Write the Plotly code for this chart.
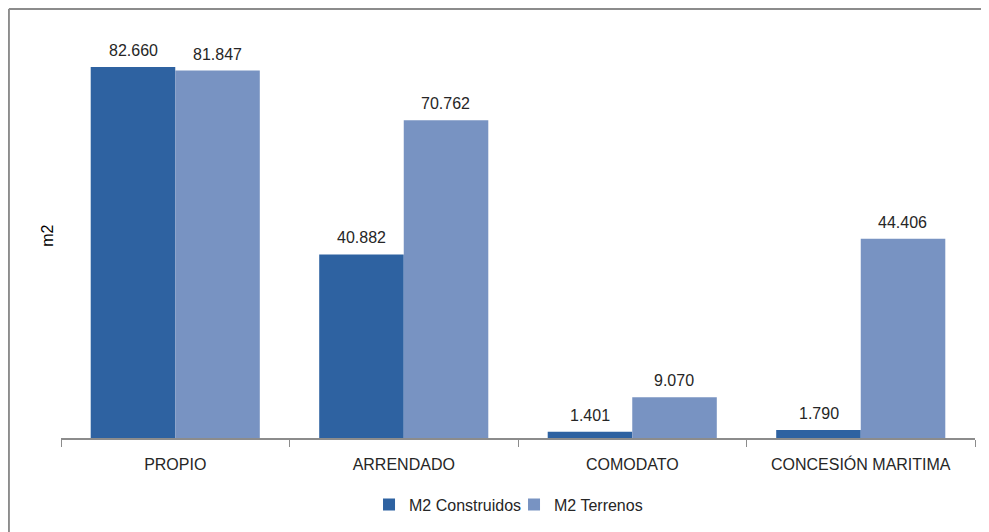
import plotly.graph_objects as go

# categories and values (m2)
categorias = ["PROPIO", "ARRENDADO", "COMODATO", "CONCESIÓN MARITIMA"]
m2_construidos = [82660, 40882, 1401, 1790]
m2_terrenos = [81847, 70762, 9070, 44406]

fig = go.Figure()

fig.add_trace(go.Bar(
    x=categorias, y=m2_construidos, name="M2 Construidos",
    marker=dict(color="#2e62a1", line_width=0),
))
fig.add_trace(go.Bar(
    x=categorias, y=m2_terrenos, name="M2 Terrenos",
    marker=dict(color="#7893c2", line_width=0),
))

# value labels above each bar (half a bar width left/right of the category centre)
bar_half = 42
for serie, dx in ((m2_construidos, -bar_half), (m2_terrenos, bar_half)):
    for cat, val in zip(categorias, serie):
        fig.add_annotation(x=cat, y=val, text=f"{val:,}".replace(",", "."),
                           showarrow=False, xshift=dx, yanchor="bottom", yshift=6,
                           font=dict(size=16, color="#262626"))

# y axis title
fig.add_annotation(x=-0.027, y=0.5, xref="paper", yref="paper", text="m2",
                   textangle=-90, showarrow=False,
                   font=dict(size=16, color="#000000"))

# outer frame of the chart (only left and top edges are visible)
frame = dict(color="#8c8c8c", width=2)
fig.add_shape(type="line", xref="paper", yref="paper",
              x0=-0.057, x1=-0.057, y0=1.062, y1=-0.3, line=frame, layer="below")
fig.add_shape(type="line", xref="paper", yref="paper",
              x0=-0.057, x1=1.03, y0=1.062, y1=1.062, line=frame, layer="below")

# the page body adds an 8px offset, so the figure is 8px smaller
fig.update_layout(
    width=981, height=524,
    margin=dict(l=53, r=14, t=26, b=93),
    paper_bgcolor="white", plot_bgcolor="white",
    barmode="group", bargap=0.26, bargroupgap=0,
    font=dict(family="Liberation Sans, Arial", size=16, color="#262626"),
    showlegend=True,
    legend=dict(orientation="h", x=0.337, xanchor="left", y=-0.12, yanchor="top",
                font=dict(size=16), itemwidth=30, entrywidth=100,
                traceorder="normal"),
    xaxis=dict(showline=True, linecolor="#8c8c8c", linewidth=1.5,
               ticks="outside", tickson="boundaries", ticklen=7,
               tickcolor="#8c8c8c", ticklabelstandoff=11,
               tickfont=dict(size=16, color="#262626")),
    yaxis=dict(range=[0, 90000], showticklabels=False, showgrid=False,
               zeroline=False, showline=False, automargin=False),
)

fig.write_html("out.html")
